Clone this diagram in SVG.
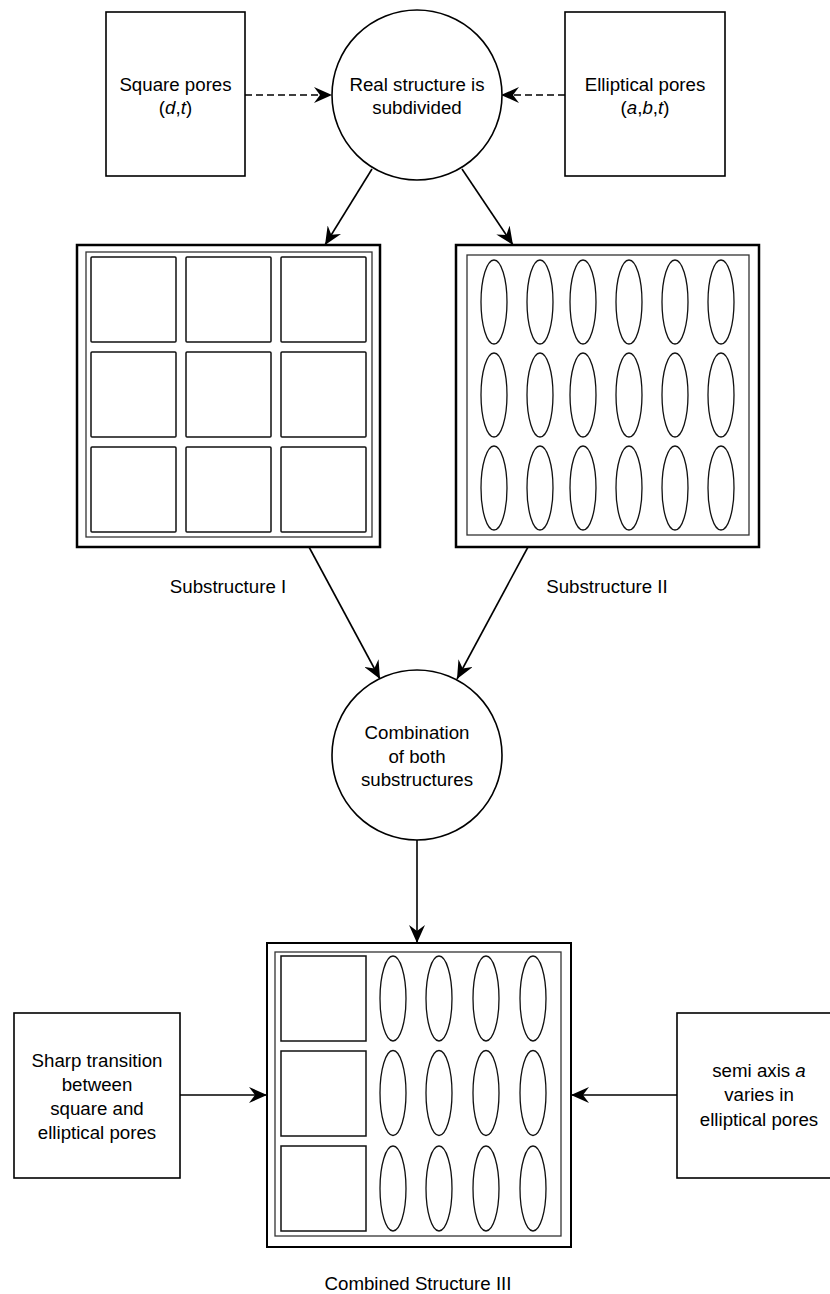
<svg xmlns="http://www.w3.org/2000/svg" width="830" height="1294" viewBox="0 0 830 1294">
<style>
text{font-family:"Liberation Sans",Arial,Helvetica,sans-serif;font-size:18.7px;fill:#000;text-anchor:middle}
.box{fill:#fff;stroke:#000;stroke-width:1.6}
.outer{fill:#fff;stroke:#000;stroke-width:2.5}
.inner{fill:none;stroke:#333;stroke-width:1.3}
.pore{fill:#fff;stroke:#111;stroke-width:1.5}
.ell{fill:#fff;stroke:#111;stroke-width:1.3}
.edge{fill:none;stroke:#000;stroke-width:1.6}
.dash{stroke-dasharray:7 4}
</style>
<defs>
<marker id="arr" markerUnits="userSpaceOnUse" markerWidth="18" markerHeight="16" refX="18" refY="8" orient="auto" viewBox="0 0 18 16">
<path d="M0,0 L18,8 L0,16 L6,8 Z" fill="#000"/>
</marker>
</defs>
<rect width="830" height="1294" fill="#fff"/>

<g id="connectors">
<line class="edge dash" x1="245" y1="95" x2="332" y2="95" marker-end="url(#arr)"/>
<line class="edge dash" x1="565" y1="95" x2="501" y2="95" marker-end="url(#arr)"/>
<line class="edge" x1="372" y1="169" x2="325" y2="245" marker-end="url(#arr)"/>
<line class="edge" x1="462" y1="169" x2="513" y2="245" marker-end="url(#arr)"/>
<line class="edge" x1="309" y1="547" x2="380" y2="679" marker-end="url(#arr)"/>
<line class="edge" x1="528" y1="547" x2="457" y2="679" marker-end="url(#arr)"/>
<line class="edge" x1="417" y1="840" x2="417" y2="943" marker-end="url(#arr)"/>
<line class="edge" x1="180" y1="1095" x2="267" y2="1095" marker-end="url(#arr)"/>
<line class="edge" x1="677" y1="1095" x2="571" y2="1095" marker-end="url(#arr)"/>
</g>

<g id="square-pores">
<rect class="box" x="106" y="12" width="139" height="164"/>
<text x="175.5" y="91">Square pores</text>
<text x="175.5" y="114">(<tspan font-style="italic">d</tspan>,<tspan font-style="italic">t</tspan>)</text>
</g>

<g id="elliptical-pores">
<rect class="box" x="565" y="12" width="160" height="164"/>
<text x="645" y="91">Elliptical pores</text>
<text x="645" y="114">(<tspan font-style="italic">a</tspan>,<tspan font-style="italic">b</tspan>,<tspan font-style="italic">t</tspan>)</text>
</g>

<g id="real-structure">
<circle class="box" cx="417" cy="95" r="85"/>
<text x="417" y="91">Real structure is</text>
<text x="417" y="114">subdivided</text>
</g>

<g id="substructure-1">
<rect class="outer" x="77" y="245" width="303" height="302"/>
<rect class="inner" x="86" y="252" width="286" height="285"/>
<rect class="pore" x="91" y="257" width="85" height="85" rx="1"/>
<rect class="pore" x="186" y="257" width="85" height="85" rx="1"/>
<rect class="pore" x="281" y="257" width="85" height="85" rx="1"/>
<rect class="pore" x="91" y="352" width="85" height="85" rx="1"/>
<rect class="pore" x="186" y="352" width="85" height="85" rx="1"/>
<rect class="pore" x="281" y="352" width="85" height="85" rx="1"/>
<rect class="pore" x="91" y="447" width="85" height="85" rx="1"/>
<rect class="pore" x="186" y="447" width="85" height="85" rx="1"/>
<rect class="pore" x="281" y="447" width="85" height="85" rx="1"/>
<text x="228" y="593">Substructure I</text>
</g>

<g id="substructure-2">
<rect class="outer" x="456" y="245" width="303" height="302"/>
<rect class="inner" x="467" y="255" width="282" height="280"/>
<g class="ell">
<ellipse cx="494" cy="302" rx="13" ry="42"/><ellipse cx="540" cy="302" rx="13" ry="42"/><ellipse cx="583" cy="302" rx="13" ry="42"/><ellipse cx="629" cy="302" rx="13" ry="42"/><ellipse cx="675" cy="302" rx="13" ry="42"/><ellipse cx="721" cy="302" rx="13" ry="42"/>
<ellipse cx="494" cy="395" rx="13" ry="42"/><ellipse cx="540" cy="395" rx="13" ry="42"/><ellipse cx="583" cy="395" rx="13" ry="42"/><ellipse cx="629" cy="395" rx="13" ry="42"/><ellipse cx="675" cy="395" rx="13" ry="42"/><ellipse cx="721" cy="395" rx="13" ry="42"/>
<ellipse cx="494" cy="488" rx="13" ry="42"/><ellipse cx="540" cy="488" rx="13" ry="42"/><ellipse cx="583" cy="488" rx="13" ry="42"/><ellipse cx="629" cy="488" rx="13" ry="42"/><ellipse cx="675" cy="488" rx="13" ry="42"/><ellipse cx="721" cy="488" rx="13" ry="42"/>
</g>
<text x="607" y="593">Substructure II</text>
</g>

<g id="combination">
<circle class="box" cx="417" cy="755" r="85"/>
<text x="417" y="739">Combination</text>
<text x="417" y="763">of both</text>
<text x="417" y="786">substructures</text>
</g>

<g id="combined-structure-3">
<rect class="outer" x="267" y="943" width="304" height="304" style="stroke-width:2"/>
<rect class="inner" x="275" y="952" width="286" height="284"/>
<rect class="pore" x="281" y="956" width="85" height="85"/>
<rect class="pore" x="281" y="1051" width="85" height="85"/>
<rect class="pore" x="281" y="1146" width="85" height="85"/>
<g class="ell">
<ellipse cx="393" cy="998.5" rx="13" ry="42.5"/><ellipse cx="439" cy="998.5" rx="13" ry="42.5"/><ellipse cx="486" cy="998.5" rx="13" ry="42.5"/><ellipse cx="533" cy="998.5" rx="13" ry="42.5"/>
<ellipse cx="393" cy="1093" rx="13" ry="42.5"/><ellipse cx="439" cy="1093" rx="13" ry="42.5"/><ellipse cx="486" cy="1093" rx="13" ry="42.5"/><ellipse cx="533" cy="1093" rx="13" ry="42.5"/>
<ellipse cx="393" cy="1188.5" rx="13" ry="42.5"/><ellipse cx="439" cy="1188.5" rx="13" ry="42.5"/><ellipse cx="486" cy="1188.5" rx="13" ry="42.5"/><ellipse cx="533" cy="1188.5" rx="13" ry="42.5"/>
</g>
<text x="418" y="1290">Combined Structure III</text>
</g>

<g id="sharp-transition">
<rect class="box" x="14" y="1013" width="166" height="165"/>
<text x="97" y="1067">Sharp transition</text>
<text x="97" y="1091">between</text>
<text x="97" y="1115">square and</text>
<text x="97" y="1139">elliptical pores</text>
</g>

<g id="semi-axis">
<rect class="box" x="677" y="1013" width="166" height="165"/>
<text x="759" y="1077">semi axis <tspan font-style="italic">a</tspan></text>
<text x="759" y="1101">varies in</text>
<text x="759" y="1126">elliptical pores</text>
</g>
</svg>
